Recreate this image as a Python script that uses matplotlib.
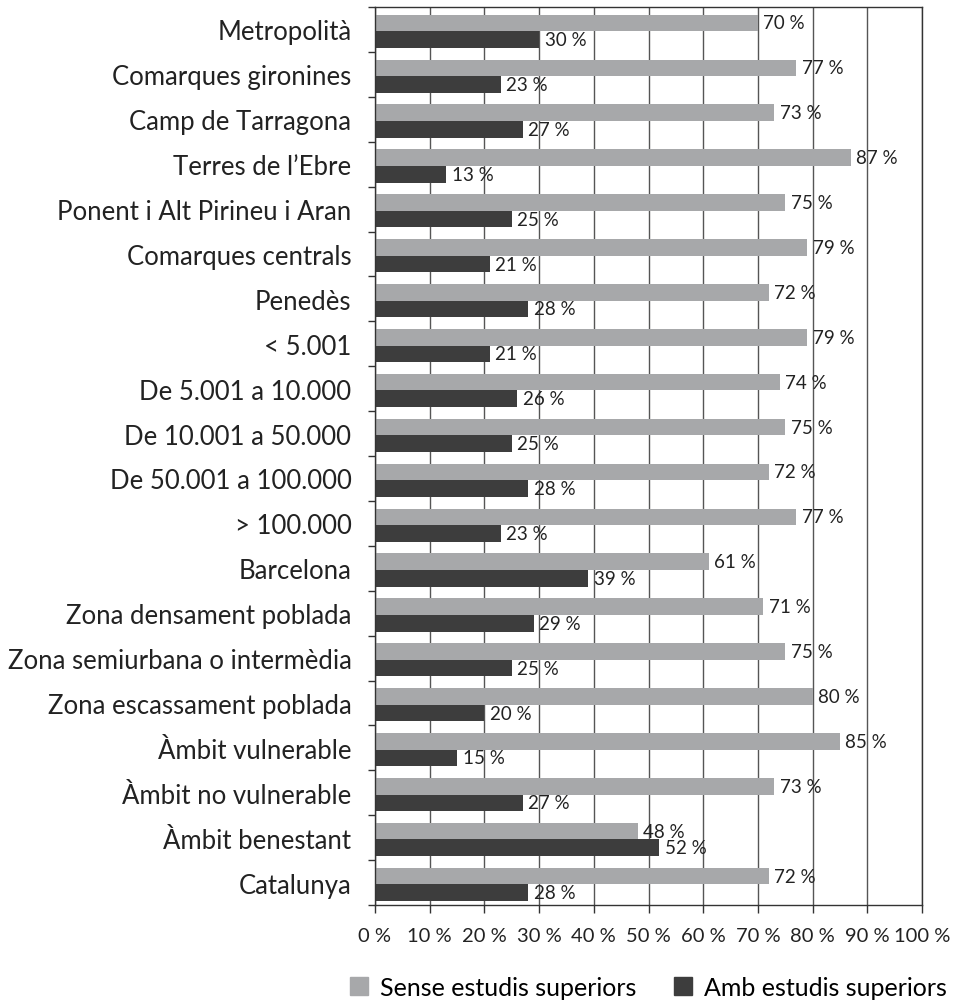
import numpy as np
from matplotlib import pyplot as plt
from matplotlib.patches import Patch

plt.rcParams['font.family'] = ['Lato', 'DejaVu Sans']

categories = ['Metropolità', 'Comarques gironines', 'Camp de Tarragona', "Terres de l’Ebre",
              'Ponent i Alt Pirineu i Aran', 'Comarques centrals', 'Penedès', '< 5.001',
              'De 5.001 a 10.000', 'De 10.001 a 50.000', 'De 50.001 a 100.000', '> 100.000',
              'Barcelona', 'Zona densament poblada', 'Zona semiurbana o intermèdia',
              'Zona escassament poblada', 'Àmbit vulnerable', 'Àmbit no vulnerable',
              'Àmbit benestant', 'Catalunya']
sense = [70, 77, 73, 87, 75, 79, 72, 79, 74, 75, 72, 77, 61, 71, 75, 80, 85, 73, 48, 72]
amb = [30, 23, 27, 13, 25, 21, 28, 21, 26, 25, 28, 23, 39, 29, 25, 20, 15, 27, 52, 28]
ticks = list(range(0, 101, 10))
tick_labels = ['%d %%' % t for t in ticks]
series_names = ['Sense estudis superiors', 'Amb estudis superiors']

c_light = '#a7a8aa'
c_dark = '#3d3d3d'

fig = plt.figure(figsize=(9.54, 10.03), dpi=100)
ax = fig.add_axes([375/954, 1 - 906/1003, (922-375)/954, (906-8)/1003])

y = np.arange(len(categories))
h = 0.37
ax.barh(y - h/2 + 0.04, sense, height=h, color=c_light, zorder=2)
ax.barh(y + h/2 + 0.04, amb, height=h, color=c_dark, zorder=2)

for yi, v in zip(y, sense):
    ax.text(v + 1.0, yi - h/2 + 0.04, '%d %%' % v, va='center', ha='left',
            fontsize=13.5, color='#222222', zorder=3)
for yi, v in zip(y, amb):
    ax.text(v + 1.0, yi + h/2 + 0.04, '%d %%' % v, va='center', ha='left',
            fontsize=13.5, color='#222222', zorder=3)

ax.set_xlim(0, 100)
ax.set_ylim(len(categories) - 0.5, -0.5)
ax.set_xticks(ticks)
ax.set_xticklabels(tick_labels, fontsize=14.5, color='#222222')
ax.set_yticks(y)
ax.set_yticklabels(categories, fontsize=18.5, color='#222222')
ax.set_yticks(np.arange(-0.5, len(categories), 1), minor=True)
ax.tick_params(axis='y', which='major', length=0, pad=17)
ax.tick_params(axis='y', which='minor', length=5, width=1, color='#333333')
ax.tick_params(axis='x', length=6, width=1, color='#333333', pad=10)
ax.xaxis.grid(True, color='#555555', linewidth=1)
ax.set_axisbelow(True)
for s in ax.spines.values():
    s.set_color('#333333')
    s.set_linewidth(1)

handles = [Patch(color=c_light), Patch(color=c_dark)]
fig.legend(handles, series_names, loc='lower center', bbox_to_anchor=(0.68, -0.019),
           ncol=2, frameon=False, fontsize=18, handlelength=0.7, handleheight=0.7,
           handletextpad=0.5, columnspacing=1.5)

fig.savefig('out.png', dpi=100)
